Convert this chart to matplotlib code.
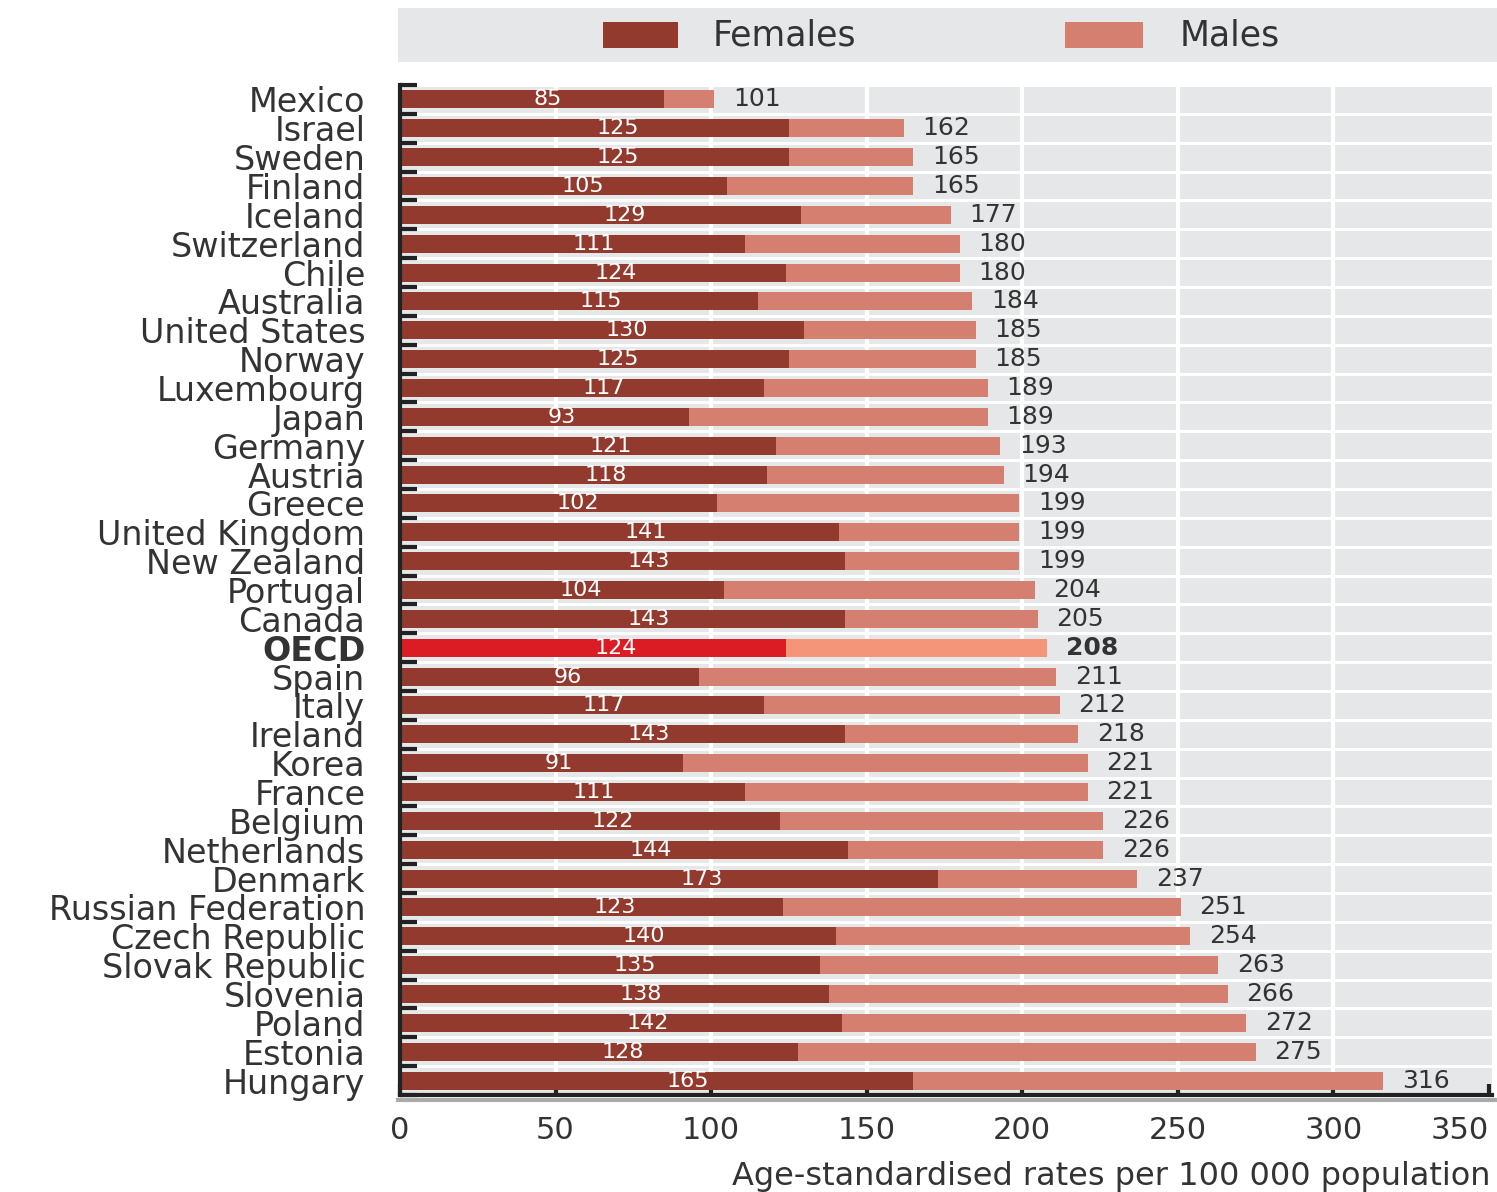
import numpy as np
import matplotlib.pyplot as plt
from matplotlib.patches import Rectangle
from matplotlib.lines import Line2D

countries = ["Mexico", "Israel", "Sweden", "Finland", "Iceland", "Switzerland",
             "Chile", "Australia", "United States", "Norway", "Luxembourg",
             "Japan", "Germany", "Austria", "Greece", "United Kingdom",
             "New Zealand", "Portugal", "Canada", "OECD", "Spain", "Italy",
             "Ireland", "Korea", "France", "Belgium", "Netherlands", "Denmark",
             "Russian Federation", "Czech Republic", "Slovak Republic",
             "Slovenia", "Poland", "Estonia", "Hungary"]
females = [85, 125, 125, 105, 129, 111, 124, 115, 130, 125, 117, 93, 121, 118,
           102, 141, 143, 104, 143, 124, 96, 117, 143, 91, 111, 122, 144, 173,
           123, 140, 135, 138, 142, 128, 165]
males = [101, 162, 165, 165, 177, 180, 180, 184, 185, 185, 189, 189, 193, 194,
         199, 199, 199, 204, 205, 208, 211, 212, 218, 221, 221, 226, 226, 237,
         251, 254, 263, 266, 272, 275, 316]
xticks = [0, 50, 100, 150, 200, 250, 300, 350]

F_COL, M_COL = "#933a2f", "#d47f70"
F_HI, M_HI = "#dc1c24", "#f4957a"
BG = "#e6e7e8"
TXT = "#333333"

plt.rcParams['font.family'] = ['DejaVu Sans']

fig = plt.figure(figsize=(14.97, 11.92), dpi=100)
ax = fig.add_axes([400 / 1497, 1 - 1095 / 1192, 1092 / 1497, 1010 / 1192])
ax.set_facecolor(BG)

y = np.arange(len(countries))
fcol = [F_HI if c == "OECD" else F_COL for c in countries]
mcol = [M_HI if c == "OECD" else M_COL for c in countries]

ax.barh(y, males, height=0.62, color=mcol, zorder=3)
ax.barh(y, females, height=0.62, color=fcol, zorder=4)

for i, (f, m, c) in enumerate(zip(females, males, countries)):
    w = 'bold' if c == "OECD" else 'normal'
    ax.text(f * 0.56, i, str(f), color='white', fontsize=16, ha='center',
            va='center', zorder=5)
    ax.text(m + 6, i, str(m), color=TXT, fontsize=18, ha='left', va='center',
            fontweight=w, zorder=5)

ax.set_ylim(len(countries) - 0.5, -0.5)
ax.set_xlim(0, 351)

# row separators and vertical grid
for b in np.arange(-0.5, len(countries) + 0.5):
    ax.axhline(b, color='white', lw=2.2, zorder=1)
for v in xticks[1:-1]:
    ax.axvline(v, color='white', lw=3, zorder=1)

ax.set_yticks(y)
ax.set_yticklabels(countries, fontsize=24, color=TXT)
for lab in ax.get_yticklabels():
    if lab.get_text() == "OECD":
        lab.set_fontweight('bold')
ax.set_yticks(np.arange(-0.5, len(countries) + 0.5), minor=True)
ax.tick_params(axis='y', which='major', length=0, pad=25)
ax.tick_params(axis='y', which='minor', direction='in', length=12, width=3,
               color='#222222')

ax.set_xticks(xticks)
ax.set_xticklabels([str(t) for t in xticks], fontsize=22, color=TXT)
ax.get_xticklabels()[-1].set_horizontalalignment('right')
ax.tick_params(axis='x', direction='in', length=8, width=3, color='#222222',
               pad=15)

for s in ['top', 'right']:
    ax.spines[s].set_visible(False)
for s in ['left', 'bottom']:
    ax.spines[s].set_linewidth(3)
    ax.spines[s].set_color('#222222')
    ax.spines[s].set_zorder(6)

# soft shadow under the baseline
fig.add_artist(Line2D([398 / 1497, 1], [1 - 1100 / 1192] * 2, color='#aaaaaa',
                      lw=3))

fig.text(1490 / 1497, 1 - 1185 / 1192,
         "Age-standardised rates per 100 000 population", fontsize=23,
         color=TXT, ha='right', va='baseline')

# legend band
fig.add_artist(Rectangle((398 / 1497, 1 - 62 / 1192), 1099 / 1497, 54 / 1192,
                         facecolor=BG, edgecolor='none'))
fig.add_artist(Rectangle((603 / 1497, 1 - 48 / 1192), 75 / 1497, 26 / 1192,
                         facecolor=F_COL, edgecolor='none'))
fig.add_artist(Rectangle((1065 / 1497, 1 - 48 / 1192), 78 / 1497, 26 / 1192,
                         facecolor=M_COL, edgecolor='none'))
fig.text(713 / 1497, 1 - 35 / 1192, "Females", fontsize=25, color=TXT,
         va='center', ha='left')
fig.text(1180 / 1497, 1 - 35 / 1192, "Males", fontsize=25, color=TXT,
         va='center', ha='left')

fig.savefig("out.png", dpi=100)
